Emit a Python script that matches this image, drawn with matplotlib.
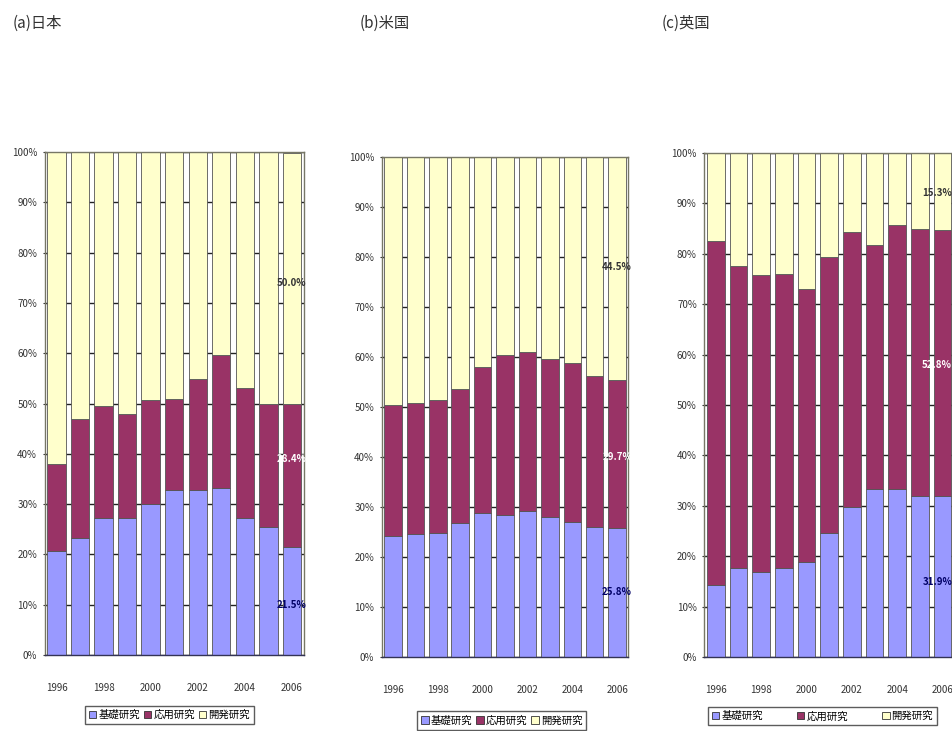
import matplotlib.pyplot as plt
import numpy as np

plt.rcParams['font.family'] = ['Noto Sans CJK JP', 'DejaVu Sans']

years = [1996, 1997, 1998, 1999, 2000, 2001, 2002, 2003, 2004, 2005, 2006]
year_ticks = ['1996', '1998', '2000', '2002', '2004', '2006']
categories = ['基礎研究', '応用研究', '開発研究']
titles = ['(a)日本', '(b)米国', '(c)英国']

# 基礎研究 / 応用研究 / 開発研究 (%)
basic_jp = [20.7, 23.3, 27.2, 27.3, 30.0, 32.8, 32.8, 33.2, 27.2, 25.4, 21.5]
applied_jp = [17.3, 23.6, 22.3, 20.6, 20.7, 18.1, 22.1, 26.4, 25.9, 24.5, 28.4]
develop_jp = [62.0, 53.1, 50.5, 52.1, 49.3, 49.1, 45.1, 40.4, 46.9, 50.1, 50.0]

basic_us = [24.2, 24.6, 24.8, 26.8, 28.8, 28.4, 29.2, 28.0, 27.0, 26.0, 25.8]
applied_us = [26.2, 26.2, 26.6, 26.8, 29.2, 32.0, 31.8, 31.6, 31.8, 30.2, 29.7]
develop_us = [49.6, 49.2, 48.6, 46.4, 42.0, 39.6, 39.0, 40.4, 41.2, 43.8, 44.5]

basic_uk = [14.3, 17.7, 16.9, 17.7, 18.9, 24.6, 29.8, 33.3, 33.3, 31.9, 31.9]
applied_uk = [68.2, 59.9, 58.9, 58.3, 54.1, 54.8, 54.5, 48.4, 52.4, 53.0, 52.8]
develop_uk = [17.5, 22.4, 24.2, 24.0, 27.0, 20.6, 15.7, 18.3, 14.3, 15.1, 15.3]

colors = ['#9999FF', '#993366', '#FFFFCC']
label_colors = ['#000066', 'white', '#333333']


def draw_panel(fig, rect, title, title_x, data, label_y, label_ha, legend_box, expand):
    ax = fig.add_axes(rect)
    x = np.arange(len(years))
    bottom = np.zeros(len(years))
    for vals, c in zip(data, colors):
        ax.bar(x, vals, bottom=bottom, width=0.78, color=c,
               edgecolor='#555555', linewidth=0.6, zorder=2)
        bottom += np.array(vals)

    ax.set_xlim(-0.5, len(years) - 0.5)
    ax.set_ylim(0, 100)
    ax.set_yticks(np.arange(0, 101, 10))
    ax.set_yticklabels([f'{v}%' for v in range(0, 101, 10)], fontsize=7, color='#333333')
    ax.set_xticks(x[::2])
    ax.set_xticklabels(year_ticks, fontsize=7, color='#333333')
    ax.tick_params(axis='x', length=0, pad=20)
    ax.tick_params(axis='y', length=3, direction='inout', color='#333333', pad=4)
    ax.yaxis.grid(True, color='#222222', linewidth=1.0, zorder=0)
    ax.set_axisbelow(True)
    for s in ax.spines.values():
        s.set_color('#777766')
        s.set_linewidth(1.0)
    ax.spines['bottom'].set_color('#333355')

    # value labels on the last bar
    last = len(years) - 1
    lx = last + 0.42 if label_ha == 'right' else last
    for vals, ly, lc in zip(data, label_y, label_colors):
        ax.text(lx, ly, f'{vals[last]:.1f}%', ha=label_ha, va='center',
                fontsize=7, color=lc, fontweight='bold', zorder=3)

    fig.text(title_x, 0.968, title, fontsize=11, color='#333333', va='center')

    handles = [plt.Rectangle((0, 0), 1, 1, facecolor=c, edgecolor='#333333', linewidth=0.6)
               for c in colors]
    if expand:
        fig.legend(handles, categories, loc='upper left', bbox_to_anchor=legend_box,
                   mode='expand', ncol=3, fontsize=7.5, frameon=True, fancybox=False,
                   edgecolor='#333333', handlelength=0.7, handleheight=0.7,
                   handletextpad=0.2, borderpad=0.4)
    else:
        fig.legend(handles, categories, loc='upper center', bbox_to_anchor=legend_box,
                   ncol=3, fontsize=7.5, frameon=True, fancybox=False,
                   edgecolor='#333333', handlelength=0.7, handleheight=0.7,
                   handletextpad=0.2, columnspacing=0.4, borderpad=0.4)
    return ax


fig = plt.figure(figsize=(9.52, 7.31), dpi=100)

draw_panel(fig, [0.047, 0.104, 0.272, 0.688], titles[0], 0.013,
           [basic_jp, applied_jp, develop_jp], [10, 39, 74], 'center',
           (0.178, 0.042), False)
draw_panel(fig, [0.401, 0.101, 0.259, 0.684], titles[1], 0.378,
           [basic_us, applied_us, develop_us], [13, 40, 78], 'center',
           (0.527, 0.034), False)
draw_panel(fig, [0.740, 0.101, 0.262, 0.690], titles[2], 0.695,
           [basic_uk, applied_uk, develop_uk], [15, 58, 92], 'right',
           (0.738, 0.0, 0.252, 0.04), True)

fig.savefig('out.png', dpi=100)
